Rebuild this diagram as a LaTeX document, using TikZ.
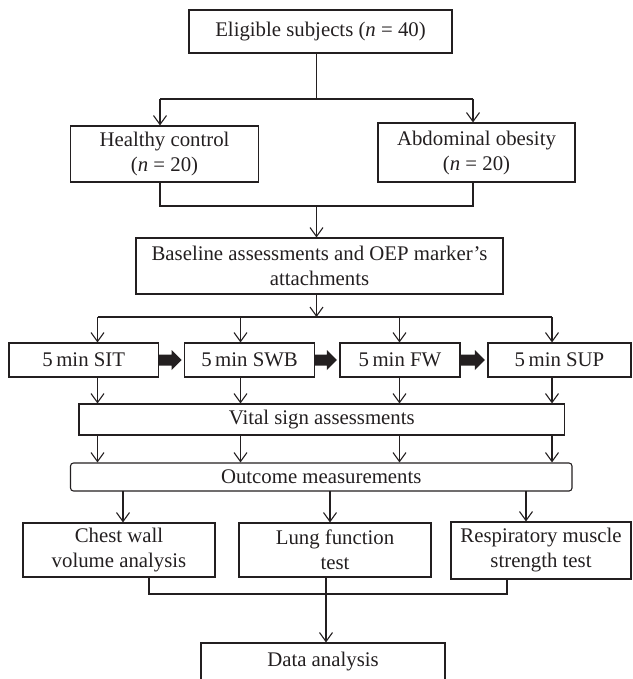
\documentclass[tikz,border=0pt]{standalone}
\usepackage{fontspec}
\setmainfont{Liberation Serif}
\usetikzlibrary{arrows.meta,calc}
\definecolor{ink}{HTML}{231F20}
\newcommand\blockarr[2]{\fill[ink] ($(#1.east)+(0,-5.5)$) -- ($(#2.west)+(-12.5,-5.5)$) -- ($(#2.west)+(-12.5,-10)$) -- ($(#2.west)+(-2.5,0)$) -- ($(#2.west)+(-12.5,10)$) -- ($(#2.west)+(-12.5,5.5)$) -- ($(#1.east)+(0,5.5)$) -- cycle;}
\begin{document}
\begin{tikzpicture}[x=1pt,y=-1pt,
  box/.style={draw=ink, line width=1.1pt, inner sep=0pt, align=center, text=ink,
    font=\fontsize{20.8}{25}\selectfont},
  ln/.style={draw=ink, line width=1.1pt},
  arr/.style={draw=ink, line width=1.1pt, -{Straight Barb[length=9pt,width=13pt]}}]
\useasboundingbox (0,0) rectangle (632,679);
\clip (0,0) rectangle (632,679);

% nodes
\node[box, minimum width=263pt, minimum height=43pt] (elig) at (320.5,31.5) {Eligible subjects (\textit{n} = 40)};
\node[box, minimum width=188pt, minimum height=56pt] (healthy) at (164.5,154) {Healthy control\\(\textit{n} = 20)};
\node[box, minimum width=197pt, minimum height=59pt] (abd) at (476.5,152.5) {Abdominal obesity\\(\textit{n} = 20)};
\node[box, minimum width=367pt, minimum height=56pt] (base) at (319.5,266) {Baseline assessments and OEP marker’s\\attachments};
\node[box, minimum width=149.5pt, minimum height=34pt] (sit) at (83.75,360) {5\,min SIT};
\node[box, minimum width=130pt, minimum height=34pt] (swb) at (249.6,360) {5\,min SWB};
\node[box, minimum width=120pt, minimum height=34pt] (fw) at (400,360) {5\,min FW};
\node[box, minimum width=143pt, minimum height=34pt] (sup) at (559.5,360) {5\,min SUP};
\node[box, minimum width=485.5pt, minimum height=31pt] (vital) at (321.75,419.5) {Vital sign assessments};
\node[box, rounded corners=3pt, minimum width=501.5pt, minimum height=28pt] (out) at (321.25,477) {Outcome measurements};
\node[box, minimum width=192pt, minimum height=54pt] (chest) at (119,550) {Chest wall\\volume analysis};
\node[box, minimum width=192pt, minimum height=54pt] (lung) at (335,550) {Lung function\\test};
\node[box, minimum width=180pt, minimum height=57pt] (resp) at (541,550.5) {Respiratory muscle\\strength test};
\node[box, minimum width=244pt, minimum height=38pt] (data) at (323,662) {Data analysis};

% coordinates
\coordinate (t1) at (316.5,99);
\coordinate (hl) at (160,99);
\coordinate (hr) at (473,99);
\coordinate (ml) at (160,206);
\coordinate (mr) at (473,206);
\coordinate (mc) at (316.5,206);
\coordinate (bc) at (316.5,317);
\coordinate (d1) at (97.5,317);
\coordinate (d2) at (240.5,317);
\coordinate (d3) at (399.5,317);
\coordinate (d4) at (552,317);
\coordinate (e1) at (123,491);
\coordinate (e2) at (330,491);
\coordinate (e3) at (526,491);
\coordinate (f1) at (149,594);
\coordinate (f2) at (507,594);
\coordinate (f3) at (326,594);

% connectors
\draw[ln] (t1 |- elig.south) -- (t1);
\draw[ln] (hl) -- (hr);
\draw[arr] (hl) -- (hl |- healthy.north);
\draw[arr] (hr) -- (hr |- abd.north);
\draw[ln] (ml |- healthy.south) -- (ml) -- (mr) -- (mr |- abd.south);
\draw[arr] (mc) -- (mc |- base.north);
\draw[arr] (bc |- base.south) -- (bc);
\draw[ln] (d1) -- (d4);
\foreach \d/\b in {d1/sit,d2/swb,d3/fw,d4/sup}{
  \draw[arr] (\d) -- (\d |- \b.north);
  \draw[arr] (\d |- \b.south) -- (\d |- vital.north);
  \draw[arr] (\d |- vital.south) -- (\d |- out.north);
}
\blockarr{sit}{swb}
\blockarr{swb}{fw}
\blockarr{fw}{sup}
\draw[arr] (e1) -- (e1 |- chest.north);
\draw[arr] (e2) -- (e2 |- lung.north);
\draw[arr] (e3) -- (e3 |- resp.north);
\draw[ln] (f1 |- chest.south) -- (f1) -- (f2) -- (f2 |- resp.south);
\draw[arr] (f3 |- lung.south) -- (f3 |- data.north);
\end{tikzpicture}
\end{document}
